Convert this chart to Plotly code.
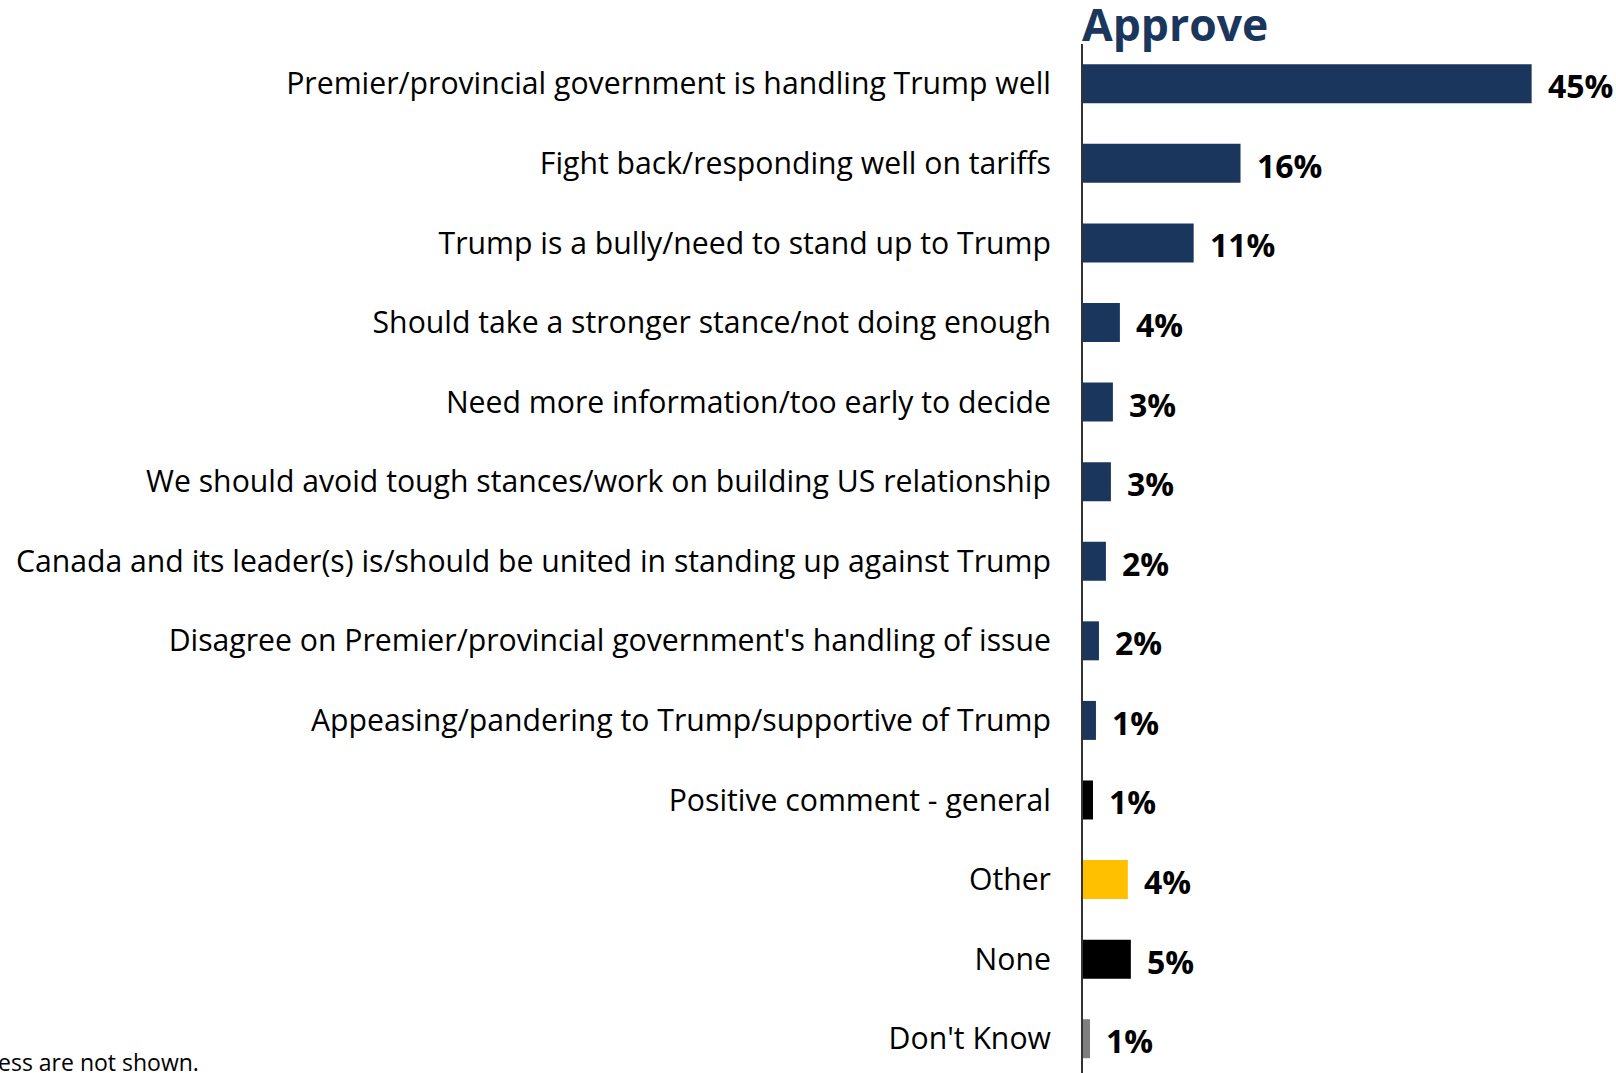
import plotly.graph_objects as go

categories = [
    "Premier/provincial government is handling Trump well",
    "Fight back/responding well on tariffs",
    "Trump is a bully/need to stand up to Trump",
    "Should take a stronger stance/not doing enough",
    "Need more information/too early to decide",
    "We should avoid tough stances/work on building US relationship",
    "Canada and its leader(s) is/should be united in standing up against Trump",
    "Disagree on Premier/provincial government's handling of issue",
    "Appeasing/pandering to Trump/supportive of Trump",
    "Positive comment - general",
    "Other",
    "None",
    "Don't Know",
]
values = [45.0, 15.8, 11.1, 3.7, 3.0, 2.8, 2.3, 1.6, 1.3, 1.0, 4.5, 4.8, 0.7]
value_labels = ["45%", "16%", "11%", "4%", "3%", "3%", "2%", "2%", "1%", "1%", "4%", "5%", "1%"]

NAVY = "#1B365D"
colors = [NAVY] * 9 + ["#000000", "#FFC000", "#000000", "#7F7F7F"]

W, H = 1616, 1073
LEFT = 1083
TOP = 43.7
ROW = 79.6
plot_h = H - TOP
rows_visible = plot_h / ROW

fig = go.Figure()
fig.add_trace(go.Bar(
    x=values,
    y=categories,
    orientation="h",
    marker=dict(color=colors, line=dict(width=0)),
    width=0.49,
    hoverinfo="skip",
))

for cat, v, lab in zip(categories, values, value_labels):
    fig.add_annotation(
        x=v, y=cat, xref="x", yref="y",
        text=lab, showarrow=False,
        xanchor="left", yanchor="middle", xshift=14, yshift=-2,
        font=dict(family="Open Sans", size=32, color="#000000", weight="bold"),
    )

plot_w = W - LEFT
fig.add_annotation(
    x=0, y=1, xref="paper", yref="paper",
    text="<b>Approve</b>", showarrow=False, borderpad=0,
    xanchor="left", yanchor="bottom", xshift=-2, yshift=-11,
    font=dict(family="Open Sans", size=44.5, color=NAVY),
)

fig.add_annotation(
    x=-LEFT / plot_w, y=0, xref="paper", yref="paper",
    text="ess are not shown.", showarrow=False, borderpad=0,
    xanchor="left", yanchor="bottom", xshift=-3, yshift=-6,
    font=dict(family="Open Sans", size=23, color="#000000"),
)

fig.update_layout(
    width=W, height=H,
    margin=dict(l=LEFT, r=0, t=TOP, b=0, pad=0),
    paper_bgcolor="white", plot_bgcolor="white",
    showlegend=False,
    xaxis=dict(range=[0, plot_w / 9.97], visible=False, fixedrange=True),
    yaxis=dict(
        range=[-0.5 + rows_visible, -0.5],
        showline=True, linecolor="#333333", linewidth=2,
        showgrid=False, zeroline=False,
        ticks="", ticklabelstandoff=24,
        tickfont=dict(family="Open Sans", size=30.2, color="#000000"),
        fixedrange=True,
    ),
    font=dict(family="Open Sans"),
)

fig.write_html(
    "out.html",
    config={"displayModeBar": False},
    post_script="document.body.style.margin='0px';document.body.style.overflow='hidden';",
)
